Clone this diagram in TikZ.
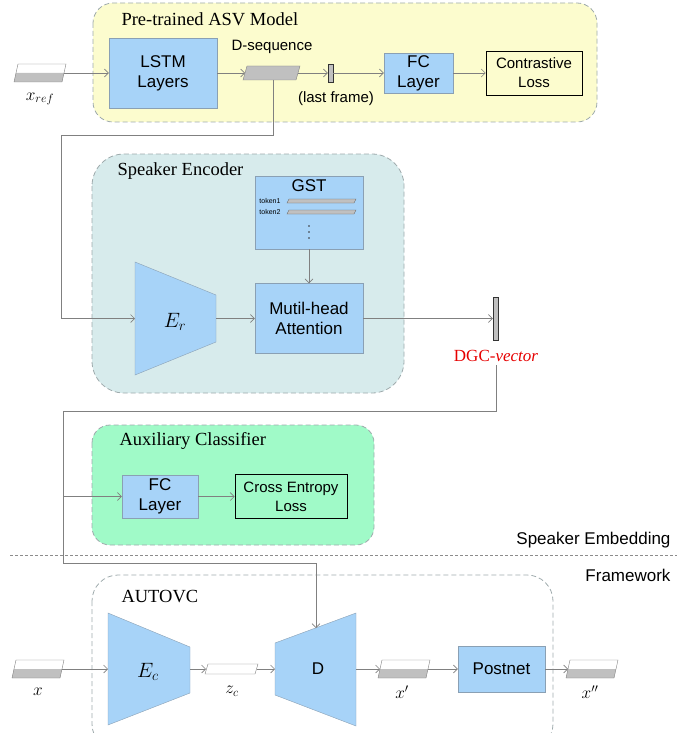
\documentclass[tikz,border=0pt]{standalone}
\usepackage{fontspec}
\setmainfont{Liberation Serif}
\setsansfont{Liberation Sans}
\usetikzlibrary{arrows.meta}

\definecolor{boxblue}{RGB}{167,211,248}
\definecolor{boxedge}{RGB}{138,160,180}
\definecolor{asvyellow}{RGB}{252,252,206}
\definecolor{encteal}{RGB}{215,235,236}
\definecolor{auxgreen}{RGB}{160,250,200}
\definecolor{groupedge}{RGB}{158,170,172}
\definecolor{specgray}{RGB}{192,192,192}
\definecolor{wirecol}{RGB}{128,128,128}
\definecolor{dgcred}{RGB}{230,0,0}

\newcommand{\titlefont}{\rmfamily\fontsize{18.5}{20}\selectfont}
\newcommand{\blockfont}{\sffamily\fontsize{17}{20}\selectfont}
\newcommand{\smallfont}{\sffamily\fontsize{15}{19}\selectfont}
\newcommand{\mathlbl}{\fontsize{18}{20}\selectfont}

% half white, half gray input/output slab
\newcommand{\specslab}[3]{%
    \begin{scope}[shift={(#2,#3)}]
        \fill[white] (0,18) -- (4,0) -- (52,0) -- (48,18) -- cycle;
        \fill[specgray] (0,18) -- (2,9) -- (50,9) -- (48,18) -- cycle;
        \draw[draw=wirecol] (0,18) -- (4,0) -- (52,0) -- (48,18) -- cycle;
        \coordinate (#1-w) at (2,9);
        \coordinate (#1-e) at (50,9);
    \end{scope}}

\tikzset{
    wire/.style={draw=wirecol, line width=0.6pt, -{Straight Barb[length=4pt,width=8pt]}},
    bus/.style={draw=wirecol, line width=0.8pt},
    group/.style={draw=groupedge, line width=0.8pt, dash pattern=on 5pt off 3pt},
    blk/.style={draw=boxedge, fill=boxblue, font=\blockfont, align=center, inner sep=0pt},
    lossblk/.style={draw=black, line width=0.8pt, font=\smallfont, align=center, inner sep=0pt},
    bar/.style={draw=black!70, fill=specgray, inner sep=0pt},
    trap/.style={draw=boxedge, fill=boxblue},
}

\begin{document}
\begin{tikzpicture}[x=1pt, y=-1pt]
    \useasboundingbox (0,0) rectangle (691,733);

    \draw[group, fill=asvyellow, rounded corners=20pt] (93,3) rectangle (597,122);
    \draw[group, fill=encteal, rounded corners=32pt] (92,154) rectangle (404,393);
    \draw[group, fill=auxgreen, rounded corners=18pt] (92,425) rectangle (374,545);
    \draw[group, rounded corners=26pt] (92,575) rectangle (553,750);

    \node[font=\titlefont, anchor=west] (asvtitle) at (118,19) {Pre-trained ASV Model};
    \node[font=\titlefont, anchor=west] (enctitle) at (114,171) {Speaker Encoder};
    \node[font=\titlefont, anchor=west] (auxtitle) at (116,441) {Auxiliary Classifier};
    \node[font=\titlefont, anchor=west] (vctitle) at (118,597) {AUTOVC};

    % pre-trained ASV
    \specslab{xref}{14}{64}
    \node[font=\mathlbl] (xreflbl) at (40,99) {$x_{ref}$};
    \node[blk, minimum width=108pt, minimum height=70pt] (lstm) at (163,73) {LSTM\\Layers};
    \filldraw[draw=wirecol, fill=specgray] (243,80) -- (247,66) -- (300,66) -- (296,80) -- cycle;
    \coordinate (dseq-w) at (245,73);
    \coordinate (dseq-e) at (298,73);
    \coordinate (dseq-s) at (273,80);
    \node[font=\smallfont] (dseqlbl) at (272,47) {D-sequence};
    \node[bar, draw=black!80, minimum width=5pt, minimum height=18pt] (frame) at (330.5,73) {};
    \node[font=\smallfont] (framelbl) at (336,99) {(last frame)};
    \node[blk, minimum width=69pt, minimum height=40pt] (fcasv) at (418.5,73) {FC\\Layer};
    \node[lossblk, minimum width=96pt, minimum height=44pt] (closs) at (534,73) {Contrastive\\Loss};

    \draw[wire] (xref-e) -- (lstm.west);
    \draw[wire] (lstm.east) -- (dseq-w);
    \draw[wire] (dseq-e) -- (frame.west);
    \draw[wire] (frame.east) -- (fcasv.west);
    \draw[wire] (fcasv.east) -- (closs.west);

    % speaker encoder
    \filldraw[trap] (135,262) -- (216,295) -- (216,342) -- (135,375) -- cycle;
    \coordinate (er-w) at (135,318.5);
    \coordinate (er-e) at (216,318.5);
    \node[font=\fontsize{22}{24}\selectfont] (erlbl) at (175,322) {$E_r$};
    \node[blk, minimum width=108pt, minimum height=73pt] (gst) at (309,212.5) {};
    \node[font=\blockfont] (gstlbl) at (309,186) {GST};
    \node[font=\sffamily\fontsize{7}{8}\selectfont] (tok1) at (270,201) {token1};
    \node[font=\sffamily\fontsize{7}{8}\selectfont] (tok2) at (270,212) {token2};
    \filldraw[draw=black!60, fill=specgray] (287,203) -- (289,199) -- (356,199) -- (354,203) -- cycle;
    \filldraw[draw=black!60, fill=specgray] (287,214) -- (289,210) -- (356,210) -- (354,214) -- cycle;
    \foreach \dy in {226,232,238}
        \fill[black!80] (309,\dy) circle (0.9pt);
    \node[blk, minimum width=108pt, minimum height=70pt] (att) at (309,318.5) {Mutil-head\\Attention};
    \node[bar, draw=black!80, minimum width=5pt, minimum height=43pt] (dgc) at (495.5,318.5) {};
    \node[font=\rmfamily\fontsize{17}{19}\selectfont, text=dgcred] (dgclbl) at (496,356) {DGC-\textit{vector}};

    \draw[wire] (dseq-s) |- (61,135) |- (er-w);
    \draw[wire] (er-e) -- (att.west);
    \draw[wire] (gst.south) -- (att.north);
    \draw[wire] (att.east) -- (dgc.west);

    % auxiliary classifier
    \node[blk, minimum width=76pt, minimum height=43pt] (fcaux) at (160,496.5) {FC\\Layer};
    \node[lossblk, minimum width=112pt, minimum height=44pt] (celoss) at (291,496.5) {Cross Entropy\\Loss};
    \draw[wire] (fcaux.east) -- (celoss.west);

    % AUTOVC
    \specslab{xin}{12}{660}
    \node[font=\mathlbl] (xinlbl) at (38,692) {$x$};
    \filldraw[trap] (108,613) -- (190,647) -- (190,693) -- (108,725) -- cycle;
    \coordinate (ec-w) at (108,669);
    \coordinate (ec-e) at (190,669);
    \node[font=\fontsize{22}{24}\selectfont] (eclbl) at (148,672) {$E_c$};
    \filldraw[draw=wirecol, fill=white] (205,674) -- (208,664) -- (258,664) -- (255,674) -- cycle;
    \coordinate (zc-w) at (206,669);
    \coordinate (zc-e) at (257,669);
    \node[font=\mathlbl] (zclbl) at (232,691) {$z_c$};
    \filldraw[trap] (275,643) -- (356,613) -- (356,726) -- (275,695) -- cycle;
    \coordinate (dec-w) at (275,669);
    \coordinate (dec-e) at (356,669);
    \coordinate (dec-n) at (316,628);
    \node[font=\blockfont] (declbl) at (318,669) {D};
    \specslab{xout}{378}{660}
    \node[font=\mathlbl] (xoutlbl) at (402,692) {$x'$};
    \node[blk, minimum width=87pt, minimum height=46pt] (post) at (501.5,669) {Postnet};
    \specslab{xpost}{566}{660}
    \node[font=\mathlbl] (xpostlbl) at (590,692) {$x''$};

    \draw[wire] (xin-e) -- (ec-w);
    \draw[wire] (ec-e) -- (zc-w);
    \draw[wire] (zc-e) -- (dec-w);
    \draw[wire] (dec-e) -- (xout-w);
    \draw[wire] (xout-e) -- (post.west);
    \draw[wire] (post.east) -- (xpost-w);

    % DGC-vector to classifier and decoder
    \coordinate (bus) at (63,411);
    \draw[bus] (dgclbl.south) |- (bus);
    \draw[wire] (bus) |- (316,563) -- (dec-n);
    \draw[wire] (fcaux.west -| bus) -- (fcaux.west);

    \draw[draw=black!45, dash pattern=on 3pt off 2pt] (10,555) -- (677,555);
    \node[font=\blockfont, anchor=east] (embtxt) at (674,540) {Speaker Embedding};
    \node[font=\blockfont, anchor=east] (fwtxt) at (674,575) {Framework};
\end{tikzpicture}
\end{document}
